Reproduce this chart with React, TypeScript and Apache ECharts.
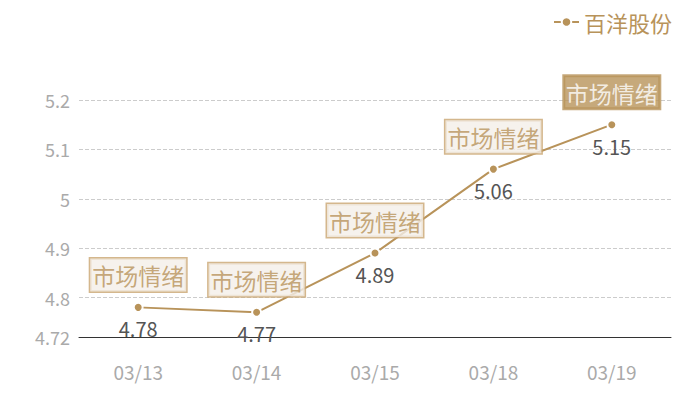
import * as echarts from 'echarts';
import React, { useEffect, useRef } from 'react';

const dates = ['03/13', '03/14', '03/15', '03/18', '03/19'];
const prices = [4.78, 4.77, 4.89, 5.06, 5.15];
const moodText = '市场情绪';
const highlightIndex = 4;

const GOLD = '#b8935a';
const FONT = '"Noto Sans CJK SC", "Noto Sans", sans-serif';

const App: React.FC = () => {
  const chartRef = useRef<HTMLDivElement>(null);

  useEffect(() => {
    let chart: echarts.ECharts | undefined;
    if (chartRef.current) {
      chart = echarts.init(chartRef.current, undefined, { renderer: 'svg' });

      // the div sits 8px in from the page's top-left corner (body margin)
      const option: echarts.EChartsOption = {
        animation: false,
        textStyle: { fontFamily: FONT },
        legend: {
          type: 'plain',
          data: ['百洋股份'],
          right: 20,
          top: 3,
          padding: 0,
          itemWidth: 25,
          itemHeight: 12,
          itemGap: 7,
          textStyle: {
            color: GOLD,
            fontSize: 22,
            fontFamily: FONT,
          },
        },
        grid: { left: 71, right: 21, top: 92, bottom: 55 },
        xAxis: {
          type: 'category',
          data: dates,
          axisTick: { show: false },
          axisLine: { lineStyle: { color: '#333', width: 1 } },
          axisLabel: { color: '#aaa', fontSize: 19, margin: 25 },
        },
        yAxis: {
          type: 'value',
          min: 4.72,
          max: 5.2,
          axisLine: { show: false },
          axisTick: { show: false },
          axisLabel: { color: '#aaa', fontSize: 18, margin: 9 },
          splitLine: { lineStyle: { type: 'dashed', color: '#ccc' } },
        },
        series: [
          {
            name: '百洋股份',
            type: 'line',
            data: prices,
            symbol: 'circle',
            symbolSize: 9,
            z: 3,
            lineStyle: { color: GOLD, width: 2 },
            itemStyle: { color: GOLD, borderColor: '#fff', borderWidth: 2 },
            label: {
              show: true,
              position: 'bottom',
              distance: 6,
              color: '#555',
              fontSize: 20,
            },
          },
          {
            name: moodText,
            type: 'scatter',
            data: prices.map((v, i) =>
              i === highlightIndex
                ? {
                    value: v,
                    label: {
                      color: '#fff',
                      backgroundColor: GOLD,
                      borderColor: GOLD,
                    },
                  }
                : v,
            ),
            symbolSize: 0,
            z: 4,
            silent: true,
            label: {
              show: true,
              position: 'top',
              distance: 16,
              formatter: moodText,
              color: GOLD,
              fontSize: 23,
              lineHeight: 28,
              padding: [3, 2, 2, 2],
              backgroundColor: '#f4efe8',
              borderColor: '#c9a570',
              borderWidth: 1.5,
            },
          },
        ],
      };

      chart.setOption(option);
    }
    return () => {
      chart?.dispose();
    };
  }, []);

  return <div ref={chartRef} style={{ width: 684, height: 384 }} />;
};

export default App;
